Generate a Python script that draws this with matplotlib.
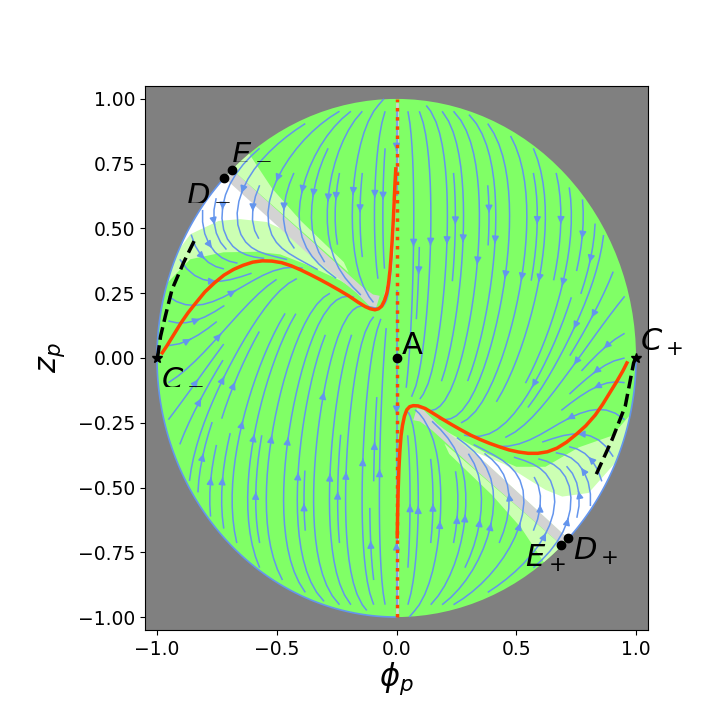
import numpy as np
import matplotlib
matplotlib.use("Agg")
import matplotlib.pyplot as plt
from matplotlib.patches import Circle, Polygon

# ---------------- data ----------------
# heteroclinic (red) curves
red_ul_phi = [-0.978, -0.96, -0.94, -0.92, -0.90, -0.87, -0.84, -0.80, -0.76, -0.72, -0.68,
              -0.64, -0.60, -0.56, -0.52, -0.48, -0.44, -0.40, -0.36, -0.32, -0.28, -0.24,
              -0.20, -0.16, -0.13, -0.11, -0.09, -0.075, -0.062, -0.05, -0.04, -0.033,
              -0.027, -0.022, -0.017, -0.013, -0.009, -0.006, -0.003]
red_ul_z = [0.02, 0.045, 0.075, 0.105, 0.135, 0.175, 0.21, 0.255, 0.29, 0.32, 0.342,
            0.358, 0.37, 0.375, 0.374, 0.368, 0.356, 0.34, 0.322, 0.303, 0.283, 0.262,
            0.24, 0.215, 0.198, 0.19, 0.186, 0.19, 0.2, 0.222, 0.252, 0.29,
            0.34, 0.40, 0.47, 0.54, 0.62, 0.68, 0.73]
red_lr_phi = [0.962, 0.945, 0.92, 0.89, 0.86, 0.83, 0.79, 0.75, 0.71, 0.67, 0.63, 0.59,
              0.55, 0.51, 0.47, 0.43, 0.39, 0.35, 0.31, 0.27, 0.23, 0.19, 0.15, 0.12,
              0.09, 0.07, 0.055, 0.043, 0.033, 0.025, 0.019, 0.014, 0.010, 0.007, 0.005, 0.003]
red_lr_z = [-0.019, -0.05, -0.09, -0.135, -0.18, -0.22, -0.262, -0.295, -0.325, -0.348, -0.362, -0.368,
            -0.368, -0.363, -0.355, -0.343, -0.33, -0.315, -0.298, -0.278, -0.257, -0.235, -0.212, -0.195,
            -0.185, -0.184, -0.188, -0.2, -0.225, -0.26, -0.30, -0.36, -0.43, -0.51, -0.59, -0.69]

# dashed black curves
dash_l_phi = [-0.998, -0.985, -0.965, -0.937, -0.889, -0.84]
dash_l_z = [0.0, 0.084, 0.162, 0.265, 0.368, 0.461]
dash_r_phi = [0.998, 0.99, 0.955, 0.9, 0.83]
dash_r_z = [0.0, -0.019, -0.186, -0.315, -0.457]

# dotted vertical line and gray segments on phi = 0
vline_phi = [0.0, 0.0]
vline_z = [-1.0, 1.0]
gray_top_z = [0.73, 0.98]
gray_bot_z = [-0.70, -0.98]
gray_side_phi = [-0.045, -0.03, -0.02, -0.014, -0.01]
gray_side_z = [0.24, 0.30, 0.40, 0.50, 0.60]

# critical points
pt_names = ["A", "C+", "C-", "D-", "E-", "D+", "E+"]
pt_phi = [0.0, 1.0, -1.0, -0.719, -0.686, 0.715, 0.686]
pt_z = [0.0, 0.0, 0.0, 0.696, 0.727, -0.696, -0.720]
pt_marker = ["o", "*", "*", "o", "o", "o", "o"]

# labels
lab_text = ["A", "$C_+$", "$C_-$", "$D_-$", "$E_-$", "$D_+$", "$E_+$"]
lab_phi = [0.02, 1.015, -0.985, -0.88, -0.69, 0.735, 0.535]
lab_z = [0.015, 0.027, -0.10, 0.61, 0.77, -0.78, -0.805]

# region boundaries (upper-left family)
white_ul_phi = [-0.907, -0.86, -0.743, -0.653, -0.542, -0.45, -0.36, -0.29]
white_ul_z = [0.42, 0.478, 0.529, 0.536, 0.525, 0.485, 0.42, 0.37]
lg_ul_phi = [-0.957, -0.861, -0.722, -0.583, -0.486, -0.375, -0.237, -0.13, -0.10]
lg_ul_z = [0.29, 0.381, 0.408, 0.41, 0.40, 0.36, 0.30, 0.24, 0.225]
lgE_ul_phi = [-0.615, -0.52, -0.40, -0.22, -0.20]
lgE_ul_z = [0.788, 0.655, 0.53, 0.37, 0.33]
band_ul_top_phi = [-0.686, -0.348, -0.15, -0.098, -0.07]
band_ul_top_z = [0.727, 0.446, 0.28, 0.245, 0.24]
band_ul_bot_phi = [-0.085, -0.112, -0.168, -0.375, -0.719]
band_ul_bot_z = [0.195, 0.2, 0.252, 0.407, 0.696]

# region boundaries (lower-right family)
white_lr_phi = [0.913, 0.802, 0.692, 0.622, 0.553, 0.45, 0.32]
white_lr_z = [-0.405, -0.521, -0.535, -0.509, -0.47, -0.41, -0.36]
lg_lr_phi = [0.975, 0.90, 0.761, 0.622, 0.50, 0.38, 0.24, 0.13, 0.10]
lg_lr_z = [-0.22, -0.30, -0.345, -0.42, -0.42, -0.37, -0.30, -0.24, -0.225]
lgE_lr_phi = [0.615, 0.52, 0.40, 0.22, 0.20]
lgE_lr_z = [-0.788, -0.655, -0.53, -0.37, -0.33]
band_lr_top_phi = [0.686, 0.348, 0.15, 0.098, 0.07]
band_lr_top_z = [-0.720, -0.446, -0.28, -0.245, -0.24]
band_lr_bot_phi = [0.085, 0.112, 0.168, 0.375, 0.715]
band_lr_bot_z = [-0.195, -0.2, -0.252, -0.407, -0.696]

GREEN = "#80FF66"
LIGHTGREEN = "#CCFFB3"
BAND = "#D3D3D3"
STREAM = "cornflowerblue"
RED = "orangered"


def arc(p0, p1, n=60):
    a0 = np.arctan2(p0[1], p0[0])
    a1 = np.arctan2(p1[1], p1[0])
    d = (a1 - a0 + np.pi) % (2 * np.pi) - np.pi
    t = np.linspace(a0, a0 + d, n)
    return np.column_stack([np.cos(t), np.sin(t)])


fig = plt.figure(figsize=(7.2, 7.2), dpi=100)
ax = fig.add_axes([0.2014, 0.125, 0.6986, 0.7556])
ax.set_facecolor("gray")
ax.set_xlim(-1.05, 1.05)
ax.set_ylim(-1.05, 1.05)

ax.add_patch(Circle((0, 0), 1.0, fc=GREEN, ec="none", zorder=0))

Dm = (pt_phi[3], pt_z[3]); Em = (pt_phi[4], pt_z[4])
Dp = (pt_phi[5], pt_z[5]); Ep = (pt_phi[6], pt_z[6])


def region(start, arc_end, bphi, bz, color, z):
    pts = np.vstack([arc(start, arc_end), np.column_stack([bphi, bz]), [start]])
    ax.add_patch(Polygon(pts, closed=True, fc=color, ec="none", zorder=z))


# upper-left regions
region(Dm, (lg_ul_phi[0], lg_ul_z[0]), lg_ul_phi, lg_ul_z, LIGHTGREEN, 0.5)
region(Dm, (white_ul_phi[0], white_ul_z[0]), white_ul_phi, white_ul_z, "white", 0.6)
region(Em, (lgE_ul_phi[0], lgE_ul_z[0]), lgE_ul_phi, lgE_ul_z, LIGHTGREEN, 0.5)
ax.add_patch(Polygon(np.column_stack([band_ul_top_phi + band_ul_bot_phi,
                                      band_ul_top_z + band_ul_bot_z]),
                     closed=True, fc=BAND, ec="none", zorder=0.7))
# lower-right regions
region(Dp, (lg_lr_phi[0], lg_lr_z[0]), lg_lr_phi, lg_lr_z, LIGHTGREEN, 0.5)
region(Dp, (white_lr_phi[0], white_lr_z[0]), white_lr_phi, white_lr_z, "white", 0.6)
region(Ep, (lgE_lr_phi[0], lgE_lr_z[0]), lgE_lr_phi, lgE_lr_z, LIGHTGREEN, 0.5)
ax.add_patch(Polygon(np.column_stack([band_lr_top_phi + band_lr_bot_phi,
                                      band_lr_top_z + band_lr_bot_z]),
                     closed=True, fc=BAND, ec="none", zorder=0.7))

# gray segments on phi = 0 and beside the red vertical branch
ax.plot(vline_phi, gray_top_z, color=BAND, lw=2, zorder=0.8)
ax.plot(vline_phi, gray_bot_z, color=BAND, lw=2, zorder=0.8)
ax.plot(gray_side_phi, gray_side_z, color=BAND, lw=2.5, zorder=0.8)

# ---------------- flow field ----------------
n = 241
ph = np.linspace(-1, 1, n)
zz = np.linspace(-1, 1, n)
PH, ZZ = np.meshgrid(ph, zz)
o_lr = np.argsort(red_lr_phi)
g = np.where(PH < 0,
             np.interp(PH, red_ul_phi, red_ul_z),
             np.interp(PH, np.asarray(red_lr_phi)[o_lr], np.asarray(red_lr_z)[o_lr]))
U = PH * (2.0 * ZZ ** 2 - 0.6)
V = -2.0 * (ZZ - g) * (1.02 - ZZ ** 2)
mask = PH ** 2 + ZZ ** 2 > 1.0
U = np.ma.array(U, mask=mask)
V = np.ma.array(V, mask=mask)
ax.streamplot(PH, ZZ, U, V, density=1.45, color=STREAM, linewidth=1.1,
              arrowsize=1.0, zorder=2)

# boundary streamlines along the circle
b1 = arc(Dm, (0.0, -1.0), 120)
ax.plot(b1[:, 0], b1[:, 1], color=STREAM, lw=1.2, zorder=2)
b2 = arc(Dp, (1.0, 0.0), 60)
ax.plot(b2[:, 0], b2[:, 1], color=STREAM, lw=1.2, zorder=2)

# red curves
ax.plot(red_ul_phi, red_ul_z, color=RED, lw=2.5, zorder=4)
ax.plot(red_lr_phi, red_lr_z, color=RED, lw=2.5, zorder=4)
ax.plot(vline_phi, vline_z, color=RED, lw=2.5, ls=":", zorder=5)

# dashed curves
ax.plot(dash_l_phi, dash_l_z, color="black", lw=2.5, ls="--", zorder=4)
ax.plot(dash_r_phi, dash_r_z, color="black", lw=2.5, ls="--", zorder=4)

# points
for p, zp, m in zip(pt_phi, pt_z, pt_marker):
    ax.plot(p, zp, marker=m, color="black", ms=6 if m == "o" else 7, zorder=6, ls="none")

for t, p, zp in zip(lab_text, lab_phi, lab_z):
    ax.text(p, zp, t, fontsize=22, ha="left", va="baseline", zorder=7)

ax.set_xlabel(r"$\phi_p$", fontsize=22)
ax.set_ylabel(r"$z_p$", fontsize=22)
ax.xaxis.set_label_coords(0.5, -0.055)
ax.yaxis.set_label_coords(-0.155, 0.5)
ax.set_xticks([-1.0, -0.5, 0.0, 0.5, 1.0])
ax.set_yticks([-1.0, -0.75, -0.5, -0.25, 0.0, 0.25, 0.5, 0.75, 1.0])
ax.set_yticklabels(["−1.00", "−0.75", "−0.50", "−0.25", "0.00", "0.25", "0.50", "0.75", "1.00"])
ax.set_xticklabels(["−1.0", "−0.5", "0.0", "0.5", "1.0"])
ax.tick_params(labelsize=13.5)

fig.savefig("out.png", dpi=100)
